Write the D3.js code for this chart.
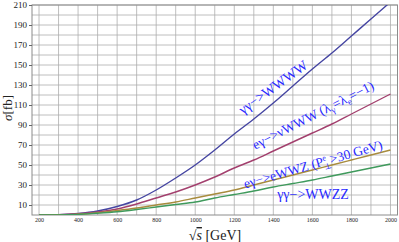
<!DOCTYPE html>
<html>
<head>
<meta charset="utf-8">
<script src="https://cdn.jsdelivr.net/npm/d3@7"></script>
<style>
  body { margin: 0; background: #fff; }
  svg { display: block; font-family: "Liberation Serif", "DejaVu Serif", serif; }
</style>
</head>
<body>
<main></main>
<script>
// sqrt(s) in GeV
const energies = [200, 300, 400, 500, 600, 700, 800, 900, 1000, 1100, 1200, 1300, 1400, 1500, 1600, 1700, 1800, 1900, 2000]
// cross sections in fb
const sigmaGGWWWW = [0, 0.3, 1.5, 4, 8.5, 15, 25, 37, 50, 65, 81, 96, 112, 129, 146, 162, 179, 196, 213]
const sigmaEGnWWW = [0, 0.3, 1.2, 3, 6, 11, 17, 23, 30, 38, 47, 55, 64, 73, 82, 91, 101, 111, 121]
const sigmaEGeWWZ = [0, 0.2, 0.8, 2.3, 4.5, 7, 10, 13, 17, 21, 25, 30, 35, 40, 45, 50, 55, 60, 65]
const sigmaGGWWZZ = [0, 0.1, 0.6, 1.8, 3.3, 5.5, 8, 10.5, 13, 17, 20.5, 24, 28, 31.5, 35, 39, 43, 47, 51]

const xTicks = [200, 400, 600, 800, 1000, 1200, 1400, 1600, 1800, 2000]
const yTicks = [10, 30, 50, 70, 90, 110, 130, 150, 170, 190, 210]

const series = [
  { values: sigmaGGWWWW, color: "#4646a2" },
  { values: sigmaEGnWWW, color: "#a3406e" },
  { values: sigmaEGeWWZ, color: "#a88c3e" },
  { values: sigmaGGWWZZ, color: "#3f9a5c" },
]

const w = 399
const h = 242
const pLeft = 32
const pRight = 397.5
const pTop = 5
const pBottom = 215

const xScale = d3.scaleLinear().domain([164, 2036]).range([pLeft, pRight])
const yScale = d3.scaleLinear().domain([0, 210]).range([pBottom, pTop])

const svg = d3.select("main").append("svg").attr("width", w).attr("height", h)

// grid
const grid = svg.append("g").attr("stroke", "#adadad").attr("stroke-width", 0.8)
grid
  .selectAll("line.v")
  .data(d3.range(200, 2001, 100))
  .enter()
  .append("line")
  .attr("x1", (d) => xScale(d))
  .attr("x2", (d) => xScale(d))
  .attr("y1", pTop)
  .attr("y2", pBottom)
grid
  .selectAll("line.h")
  .data(d3.range(10, 211, 10))
  .enter()
  .append("line")
  .attr("x1", pLeft)
  .attr("x2", pRight)
  .attr("y1", (d) => yScale(d))
  .attr("y2", (d) => yScale(d))

// frame
svg
  .append("rect")
  .attr("x", pLeft)
  .attr("y", pTop)
  .attr("width", pRight - pLeft)
  .attr("height", pBottom - pTop)
  .attr("fill", "none")
  .attr("stroke", "#8c8c8c")
  .attr("stroke-width", 1)

// axes
const yAxis = d3.axisLeft(yScale).tickValues(yTicks).tickSize(3).tickPadding(2)
svg
  .append("g")
  .attr("transform", `translate(${pLeft},0)`)
  .call(yAxis)
  .call((g) => g.select(".domain").remove())
  .call((g) => g.selectAll("line").attr("stroke", "#666"))
  .call((g) => g.selectAll("text").attr("font-size", 9).attr("font-family", "Liberation Serif").attr("fill", "#222"))

const xAxis = d3.axisBottom(xScale).tickValues(xTicks).tickFormat(d3.format("d")).tickSize(0).tickPadding(3)
svg
  .append("g")
  .attr("transform", `translate(0,${pBottom})`)
  .call(xAxis)
  .call((g) => g.select(".domain").remove())
  .call((g) => g.selectAll("text").attr("font-size", 6).attr("font-family", "Liberation Serif").attr("fill", "#222"))

// curves
svg
  .append("clipPath")
  .attr("id", "clip")
  .append("rect")
  .attr("x", pLeft)
  .attr("y", pTop)
  .attr("width", pRight - pLeft)
  .attr("height", pBottom - pTop)

const line = d3
  .line()
  .x((d, i) => xScale(energies[i]))
  .y((d) => yScale(d))
  .curve(d3.curveMonotoneX)

svg
  .append("g")
  .attr("clip-path", "url(#clip)")
  .selectAll("path")
  .data(series)
  .enter()
  .append("path")
  .attr("d", (d) => line(d.values))
  .attr("fill", "none")
  .attr("stroke", (d) => d.color)
  .attr("stroke-width", 1.4)

// labels
const lab = svg.append("g").attr("fill", "#2a2aff").attr("text-anchor", "middle")

lab
  .append("text")
  .attr("transform", "translate(273,87) rotate(-36)")
  .attr("dy", "0.35em")
  .attr("font-size", 14)
  .text("γγ−>WWWW")

const t2 = lab
  .append("text")
  .attr("transform", "translate(313,115) rotate(-27)")
  .attr("dy", "0.35em")
  .attr("font-size", 13.5)
t2.append("tspan").text("eγ−>νWWW (λ")
t2.append("tspan").attr("font-size", 9).attr("dy", 3).text("γ")
t2.append("tspan").attr("dy", -3).text("=λ")
t2.append("tspan").attr("font-size", 9).attr("dy", 3).text("e")
t2.append("tspan").attr("dy", -3).text("=−1)")

const t3 = lab
  .append("text")
  .attr("transform", "translate(313,164) rotate(-16)")
  .attr("dy", "0.35em")
  .attr("font-size", 13.5)
t3.append("tspan").text("eγ−>eWWZ (P")
t3.append("tspan").attr("font-size", 8).attr("dy", -5).text("e")
t3.append("tspan").attr("font-size", 8).attr("dx", -4).attr("dy", 9).text("⊥")
t3.append("tspan").attr("dy", -4).text(">30 GeV)")

lab
  .append("text")
  .attr("x", 313)
  .attr("y", 199)
  .attr("font-size", 14)
  .text("γγ−>WWZZ")

// axis titles
const xt = svg
  .append("text")
  .attr("x", 215)
  .attr("y", 240)
  .attr("text-anchor", "middle")
  .attr("font-size", 14)
  .attr("fill", "#222")
xt.append("tspan").text("√")
xt.append("tspan").attr("font-style", "italic").attr("text-decoration", "overline").text("s")
xt.append("tspan").text(" [GeV]")

const yt = svg
  .append("text")
  .attr("transform", "translate(12,108) rotate(-90)")
  .attr("text-anchor", "middle")
  .attr("font-size", 13)
  .attr("fill", "#222")
yt.append("tspan").attr("font-style", "italic").text("σ")
yt.append("tspan").text("[fb]")
</script>
</body>
</html>
